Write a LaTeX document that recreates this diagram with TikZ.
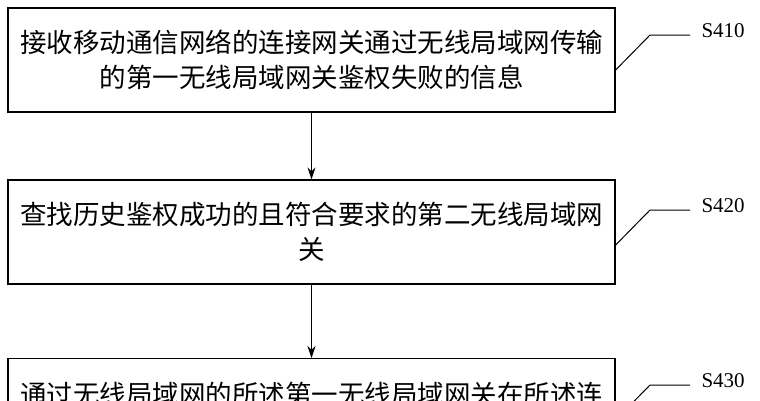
\documentclass[tikz,border=0pt]{standalone}
\usepackage{fontspec}
\setmainfont{Liberation Serif}
\newfontfamily\cjk{Noto Sans CJK SC}
\usetikzlibrary{positioning,arrows.meta}
\tikzset{stepbox/.style={rectangle,draw=black,line width=1.3pt,minimum width=607pt,minimum height=104pt,
  align=center,font=\cjk\fontsize{26.5}{35}\selectfont,inner sep=4pt},
  flow/.style={-{Stealth[length=12pt,width=8pt]},line width=1.1pt},
  tag/.style={font=\fontsize{21}{24}\selectfont,anchor=west}}
\begin{document}
\begin{tikzpicture}[x=1pt,y=-1pt]
\useasboundingbox (0,0) rectangle (760,400);
\clip (0,0) rectangle (760,400);
\node[stepbox] (s410) at (311.5,60) {接收移动通信网络的连接网关通过无线局域网传输\\的第一无线局域网关鉴权失败的信息};
\node[stepbox] (s420) at (311.5,232) {查找历史鉴权成功的且符合要求的第二无线局域网\\关};
\node[stepbox,anchor=north] (s430) at (311.5,358) {通过无线局域网的所述第一无线局域网关在所述连\\ };
\draw[flow] (s410.south) -- (s420.north);
\draw[flow] (s420.south) -- (s430.north);
\foreach \n/\y in {s410/35,s420/210,s430/385}{
  \coordinate (c\n) at (650,\y);
  \draw[line width=1pt] (\n.east |- 0,\y+35) -- (c\n) -- ++(40,0);
  \node[tag] (t\n) at (698,\y-4) {\MakeUppercase{\n}};
}
\end{tikzpicture}
\end{document}
